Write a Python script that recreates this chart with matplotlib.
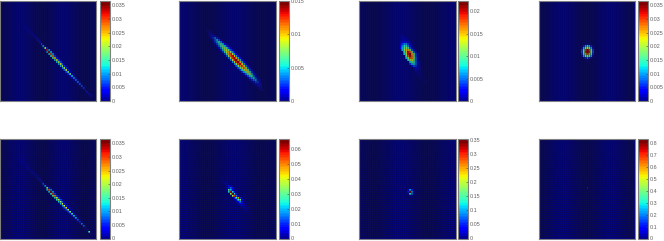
import numpy as np
import matplotlib
matplotlib.use("Agg")
import matplotlib.pyplot as plt

plt.rcParams['font.family'] = ['Liberation Sans', 'DejaVu Sans']

GRID = 50
W, H = 664, 241

# Each row entry: (row, first column, cell values in units of 0.001); all other cells hold the panel's background
panel_a = [
 (12,12,[.6,.8]),(13,12,[.6,1,.6]),(14,13,[.6,1.2,.6]),(15,14,[.7,1.6,.7]),(16,15,[.8,2,.8]),
 (17,16,[.8,2.5,.9]),(18,17,[1,3,1]),(19,18,[1,3.5,1.2]),(20,19,[1.2,5,1.5]),(21,20,[1.5,7,2]),
 (22,21,[2,10,3]),(23,22,[3,20,6]),(24,23,[3,33,11,2]),(25,24,[10,36,13,2]),(26,25,[12,30,11,2]),
 (27,26,[14,28,7,1.5]),(28,27,[15,25,6,1.5]),(29,28,[12,24,7,1.5]),(30,29,[12,21,8,1.5]),(31,30,[11,23,8,1.5]),
 (32,31,[11,21,7,1.5]),(33,32,[10,21,7,1.5]),(34,33,[8,23,6,1.5]),(35,34,[7,18,5]),(36,35,[6,18,4]),
 (37,36,[5,13,3]),(38,37,[4,10,2]),(39,38,[4,9,2]),(40,39,[3,9,2]),(41,40,[3,8,1.5]),
 (42,41,[2,7,1.5]),(43,42,[2,6,1]),(44,43,[1.5,5,1]),(45,44,[1.5,5,1]),(46,45,[1,4,1]),(47,46,[.8,3,.8]),
]
panel_b = [
 (14,13,[.4,.6,.4]),(15,14,[.5,.8,.5]),(16,15,[.6,1,.6]),(17,15,[.6,1.4,2,1.2,.6]),(18,16,[1,2.4,3.6,2.2,.8]),
 (19,17,[1.4,3.2,4.8,3,1]),(20,17,[.8,2.4,4.4,6,4,1.6]),(21,18,[1,3,5,7,5,2,.8]),(22,19,[1.4,3.6,6,7.6,5.6,2.6,1]),
 (23,20,[1.8,4,7,8.6,6.4,3,1]),(24,21,[2.2,5,8,9.6,7,3.4,1.2]),(25,22,[2.6,6,9.4,11,8,4,1.4]),
 (26,23,[3,7,11,12.6,9,4.4,1.4]),(27,24,[3.4,8,12,13.4,10,4.6,1.6]),(28,25,[3.6,8.6,13,14.2,10.6,5,1.6]),
 (29,26,[3.8,9,13.4,15,11,5,1.6]),(30,27,[4,9,13,14.6,10.6,4.8,1.6]),(31,28,[4,8.6,12,13.6,9.6,4.4,1.4]),
 (32,29,[3.6,8,11,12.4,9,4,1.2]),(33,30,[3.4,7,10,11.4,8,3.4,1]),(34,31,[3,6,9,10,6.6,3,1]),
 (35,32,[2.6,5,8,9,5.6,2.4,.8]),(36,33,[2,4,7,8,4.6,2,.8]),(37,34,[1.6,3.4,5.4,6,3.4,1.4]),(38,35,[1.4,3,4.4,5,2.6,1]),
 (39,36,[1,2.4,3.6,4,2,.8]),(40,37,[.8,1.8,3,2.6,1.4]),(41,38,[.8,1.6,2,1.6,.8]),(42,39,[.6,1.2,1.5,1]),(43,40,[.6,1,.6]),(44,41,[.5,.7,.5]),
]
panel_c = [
 (17,21,[.4,.6,.4]),(18,21,[.5,.7,.8,.6,.4]),(19,21,[.5,.8,1.2,1,.6]),(20,21,[1,1.8,2.6,2.4,1.4,.7]),
 (21,21,[1.6,4,6,6,4,1.6,.7]),(22,21,[2.4,6,8.6,9,6,3,1]),(23,21,[3,7,11,12,10,5,1.6,.7]),
 (24,22,[7,12,15,16,11,5,1.8]),(25,23,[10,15,20,18,11,5,1.6]),(26,23,[8,14,20,22.3,16,10,4,1.4]),
 (27,24,[11,18,21,17,10,4,1.2]),(28,24,[8,13,18,17,11,5,1.6]),(29,25,[9,13,14,10,5,1.6]),
 (30,26,[8,11,9,5,2,.8]),(31,26,[4,7,8,5,2.4,.8]),(32,27,[3,4.6,4,2,.8]),(33,28,[1.6,2.4,2,1,.6]),
 (34,28,[1,1.4,1.2,.7]),(35,29,[.8,1,.8,.5]),(36,29,[.6,.8,.8,.5]),(37,30,[.6,.7,.5]),(38,31,[.5,.6,.5]),(39,32,[.5,.6,.4]),(40,33,[.4,.5]),
]
panel_d = [
 (19,24,[.7,1,.7]),(20,23,[.7,1,1.4,1,.7]),(21,23,[1,2,3,2,1]),(22,22,[1.5,6,11,14,11,6,1.5]),
 (23,22,[4,12,20,24,20,12,4]),(24,22,[7,18,32,36.6,32,18,7]),(25,22,[8,20,33,36,33,20,8]),
 (26,22,[6,16,28,32,28,16,6]),(27,22,[3,11,17,20,17,11,3]),(28,23,[3,6,9,6,3]),(29,24,[1,2,1]),(30,24,[.6,.9,.6]),
]
panel_e = [
 (8,8,[.5,.7,.5]),(9,9,[.5,.7,.5]),(10,9,[.5,.8,1,.6]),(11,10,[.6,1,.6]),(12,11,[.6,1,.6]),(13,12,[.6,1.1,.6]),
 (14,13,[.6,1.2,.7]),(15,14,[.7,1.4,.7]),(16,15,[.8,1.8,.8]),(17,16,[.8,2.2,1]),(18,17,[1,2.6,1]),(19,18,[1,3.2,1.2]),
 (20,19,[1.2,4,1.4]),(21,20,[1.4,5,1.8]),(22,21,[1.8,7,2]),(23,22,[2,10,3]),(24,23,[2,18,6,1.5]),(25,24,[11,30,10,2]),
 (26,25,[12,35,12,2]),(27,26,[14,31,7,1.5]),(28,27,[16,27,7,1.5]),(29,28,[13,23,7,1.5]),(30,29,[14,22,8,1.5]),
 (31,30,[12,20,8,1.5]),(32,31,[11,24,6,1.5]),(33,32,[10,22,6,1.5]),(34,33,[8,25,5,1.5]),(35,34,[7,20,4]),
 (36,35,[6,18,4]),(37,36,[5,15,3]),(38,37,[4,13,2]),(39,38,[4,11,2]),(40,39,[3,8,2]),(41,40,[2.5,6,1.5]),
 (42,41,[2,9,1.5]),(43,42,[1.5,8,1.5]),(44,43,[1.5,3,1]),(45,44,[1,2,1]),(46,45,[1,15,1]),(47,46,[.7,2,.7]),
]
panel_f = [
 (19,20,[.8,1.4,.8]),(20,21,[1,2,1]),(21,22,[1.4,3,1.4]),(22,23,[2,4,2]),(23,24,[3,8,4,1.5]),(24,24,[3,10,16,8,2]),
 (25,24,[4,32,22,8,3]),(26,25,[24,62,24,6,2]),(27,26,[34,67,24,5]),(28,27,[36,58,16,4]),(29,28,[10,30,50,12,3]),
 (30,28,[4,9,26,33,8,2]),(31,29,[4,9,18,7,2]),(32,30,[4,7,9,4,1.4]),(33,31,[3,4,4,2]),(34,32,[2,3,2.4,1.2]),
 (35,33,[1.4,2.4,1.4]),(36,34,[1.2,1.8,1]),(37,35,[1,1.2,.8]),(38,36,[.8,1,.6]),
]
panel_g = [
 (24,25,[4,8,4]),(25,25,[30,110,50,8]),(26,25,[55,355,95,8]),(27,25,[10,130,80,8]),(28,26,[6,10,4]),
]
panel_h = [
 (24,25,[837]),
]

panels = [panel_a, panel_b, panel_c, panel_d, panel_e, panel_f, panel_g, panel_h]
backgrounds = [.35, .16, .24, .38, .35, .6, 3.5, 9]
color_tops = [.0366, .015, .0223, .0366, .0366, .067, .355, .837]
tick_sets = [
    [0, .005, .01, .015, .02, .025, .03, .035],
    [0, .005, .01, .015],
    [0, .005, .01, .015, .02],
    [0, .005, .01, .015, .02, .025, .03, .035],
    [0, .005, .01, .015, .02, .025, .03, .035],
    [0, .01, .02, .03, .04, .05, .06],
    [0, .05, .1, .15, .2, .25, .3, .35],
    [0, .1, .2, .3, .4, .5, .6, .7, .8],
]

col_px = [(0.4, 96, 99.5, 109.5), (179.5, 276, 279, 289), (359, 455.5, 458, 468), (538.5, 634.5, 637.5, 648)]
row_px = [(1, 101), (139, 238.5)]
GRAY = '#808080'
TEXT = '#606060'


def ax_px(l, r, t, b):
    return fig.add_axes([l / W, 1 - b / H, (r - l) / W, (b - t) / H])


fig = plt.figure(figsize=(W / 100, H / 100), dpi=100, facecolor='white')
cmap = plt.get_cmap('jet', 64)

for i, rows in enumerate(panels):
    top, bot = row_px[i // 4]
    l, r, cl, cr = col_px[i % 4]
    z = np.full((GRID, GRID), backgrounds[i] * 1e-3)
    for row, first, vals in rows:
        for k, v in enumerate(vals):
            z[row, first + k] = max(v * 1e-3, z[row, first + k])
    ax = ax_px(l, r, top, bot)
    mesh = ax.pcolormesh(z, cmap=cmap, vmin=0, vmax=color_tops[i], linewidth=0, rasterized=True)
    edges = np.arange(1, GRID)
    vl = ax.vlines(edges, 0, GRID, color='#14142a', alpha=0.6, linewidth=0.5)
    hl = ax.hlines(edges, 0, GRID, color='#14142a', alpha=0.6, linewidth=0.5)
    vl.set_snap(False)
    hl.set_snap(False)
    ax.set_xlim(0, GRID)
    ax.set_ylim(GRID, 0)
    ax.set_xticks([])
    ax.set_yticks([])
    for s in ax.spines.values():
        s.set_color(GRAY)
        s.set_linewidth(0.8)
    cax = ax_px(cl, cr, top, bot)
    cb = fig.colorbar(mesh, cax=cax)
    cb.solids.set_edgecolor('face')
    cb.set_ticks(tick_sets[i])
    cb.set_ticklabels([f'{t:g}' for t in tick_sets[i]])
    cb.ax.tick_params(labelsize=3.9, length=1.2, width=0.4, color='#404040',
                      labelcolor=TEXT, pad=1.6, direction='in')
    cb.outline.set_edgecolor(GRAY)
    cb.outline.set_linewidth(0.8)

fig.savefig('out.png', dpi=100)
